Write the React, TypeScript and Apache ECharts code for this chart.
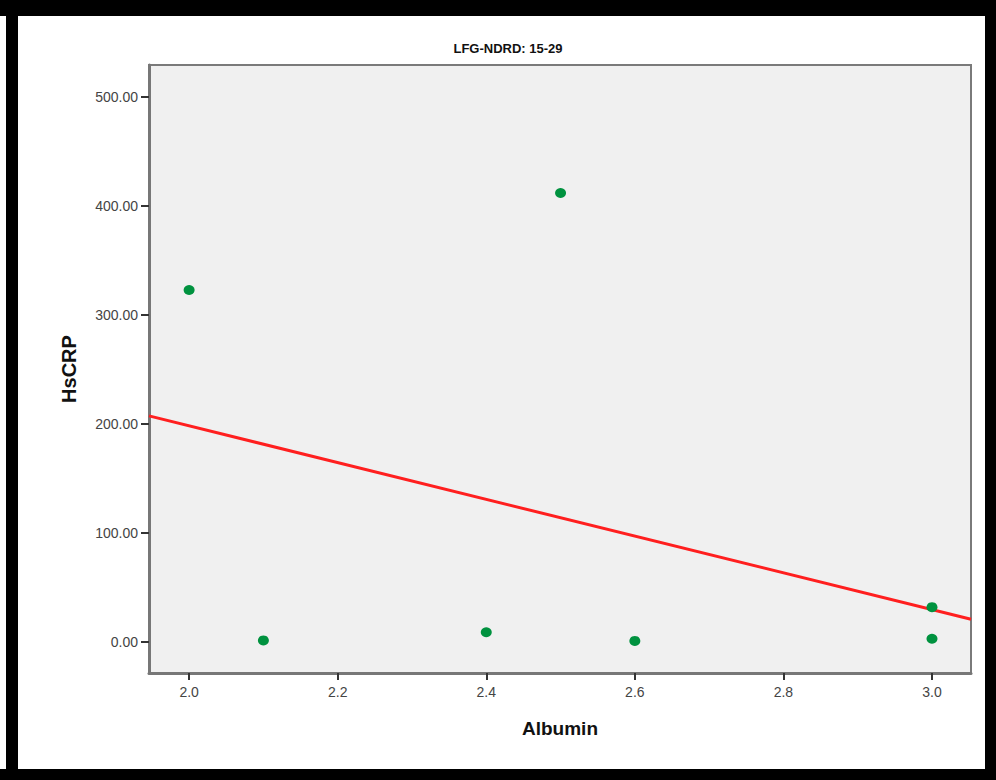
import React, { useEffect, useRef } from "react";
import * as echarts from "echarts";

const titleText = "LFG-NDRD: 15-29";
const xName = "Albumin";
const yName = "HsCRP";
const albumin = [2.0, 2.1, 2.4, 2.5, 2.6, 3.0, 3.0];
const hsCRP = [323, 1.5, 9, 412, 1, 32, 3];
const xTicks = [2.0, 2.2, 2.4, 2.6, 2.8, 3.0];
const yTicks = [0, 100, 200, 300, 400, 500];
const xRange = [1.946, 3.0525];
const yRange = [-28.4, 529.4];

function fitLine(xs: number[], ys: number[]) {
  const n = xs.length;
  const mx = xs.reduce((a, b) => a + b, 0) / n;
  const my = ys.reduce((a, b) => a + b, 0) / n;
  let sxy = 0;
  let sxx = 0;
  for (let i = 0; i < n; i++) {
    sxy += (xs[i] - mx) * (ys[i] - my);
    sxx += (xs[i] - mx) * (xs[i] - mx);
  }
  const b = sxy / sxx;
  const a = my - b * mx;
  return xRange.map((x) => [x, a + b * x]);
}

export default function App() {
  const ref = useRef<HTMLDivElement>(null);
  useEffect(() => {
    if (!ref.current) return;
    const chart = echarts.init(ref.current, undefined, { renderer: "svg" });
    const font = "'Liberation Sans', Arial, sans-serif";
    chart.setOption({
      animation: false,
      backgroundColor: "#ffffff",
      title: {
        text: titleText,
        left: 503,
        top: 37,
        textAlign: "center",
        textStyle: { fontFamily: font, fontSize: 13, fontWeight: "bold", color: "#111" },
      },
      grid: {
        left: 149,
        right: 25,
        top: 65,
        bottom: 107,
        show: true,
        backgroundColor: "#f0f0f0",
        borderColor: "#7a7a7a",
        borderWidth: 2,
      },
      xAxis: {
        type: "value",
        min: xRange[0],
        max: xRange[1],
        name: xName,
        nameLocation: "middle",
        nameGap: 46,
        nameTextStyle: { fontFamily: font, fontSize: 19, fontWeight: "bold", color: "#111" },
        splitLine: { show: false },
        axisLine: { show: true, onZero: false, lineStyle: { color: "#777", width: 3 } },
        axisTick: { show: true, length: 7, customValues: xTicks, lineStyle: { color: "#333", width: 2 } },
        axisLabel: {
          customValues: xTicks,
          formatter: (v: number) => v.toFixed(1),
          fontFamily: font,
          fontSize: 14,
          color: "#444",
          margin: 12,
        },
      },
      yAxis: {
        type: "value",
        min: yRange[0],
        max: yRange[1],
        name: yName,
        nameLocation: "middle",
        nameGap: 70,
        nameTextStyle: { fontFamily: font, fontSize: 20, fontWeight: "bold", color: "#111" },
        splitLine: { show: false },
        axisLine: { show: true, onZero: false, lineStyle: { color: "#777", width: 3 } },
        axisTick: { show: true, length: 8, customValues: yTicks, lineStyle: { color: "#333", width: 2 } },
        axisLabel: {
          customValues: yTicks,
          formatter: (v: number) => v.toFixed(2),
          fontFamily: font,
          fontSize: 14,
          color: "#444",
          margin: 11,
        },
      },
      series: [
        {
          type: "line",
          data: fitLine(albumin, hsCRP),
          showSymbol: false,
          symbol: "none",
          lineStyle: { color: "#ff1f1f", width: 3 },
          z: 2,
        },
        {
          type: "scatter",
          data: albumin.map((x, i) => [x, hsCRP[i]]),
          symbol: "circle",
          symbolSize: [11, 10],
          itemStyle: { color: "#00923f", opacity: 1 },
          z: 3,
        },
      ],
      graphic: [
        { type: "rect", shape: { x: 0, y: 0, width: 996, height: 16 }, style: { fill: "#000" } },
        { type: "rect", shape: { x: 0, y: 769, width: 996, height: 11 }, style: { fill: "#000" } },
        { type: "rect", shape: { x: 6, y: 0, width: 12, height: 780 }, style: { fill: "#000" } },
        { type: "rect", shape: { x: 985, y: 0, width: 11, height: 780 }, style: { fill: "#000" } },
      ],
    });
    return () => chart.dispose();
  }, []);
  return <div ref={ref} style={{ width: 996, height: 780, position: "absolute", left: 0, top: 0 }} />;
}
